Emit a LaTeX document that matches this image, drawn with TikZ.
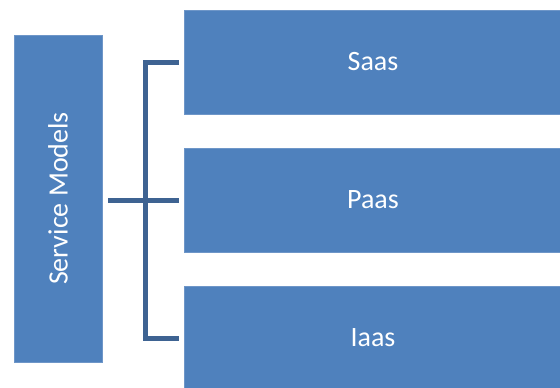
\documentclass[tikz,border=0pt]{standalone}
\usepackage{fontspec}
\setmainfont{Carlito}
\definecolor{boxblue}{RGB}{79,129,189}
\definecolor{boxedge}{RGB}{110,150,200}
\definecolor{linkblue}{RGB}{62,99,146}
\begin{document}
\begin{tikzpicture}[x=1pt,y=-1pt,
  model/.style={draw=boxedge,line width=0.8pt,fill=boxblue,text=white,
    font=\fontsize{28}{32}\selectfont,inner sep=0pt},
  link/.style={draw=linkblue,line width=5pt}]
  \useasboundingbox (0,0) rectangle (560,388);
  % left category box
  \node[model,minimum width=88pt,minimum height=327pt] (sm) at (58,198.5)
    {\rotatebox{90}{Service Models}};
  % service model boxes
  \node[model,minimum width=378pt,minimum height=104pt] (saas) at (373,62) {Saas};
  \node[model,minimum width=378pt,minimum height=104pt] (paas) at (373,200) {Paas};
  \node[model,minimum width=378pt,minimum height=104pt] (iaas) at (373,338) {Iaas};
  % bracket connector
  \coordinate (jn) at (145,200);
  \coordinate (top) at (145,62);
  \coordinate (bot) at (145,338);
  \draw[link] (108,200) -- (jn) -- (179,200);
  \draw[link,line join=miter] (179,62) -- (top) -- (bot) -- (179,338);
\end{tikzpicture}
\end{document}
